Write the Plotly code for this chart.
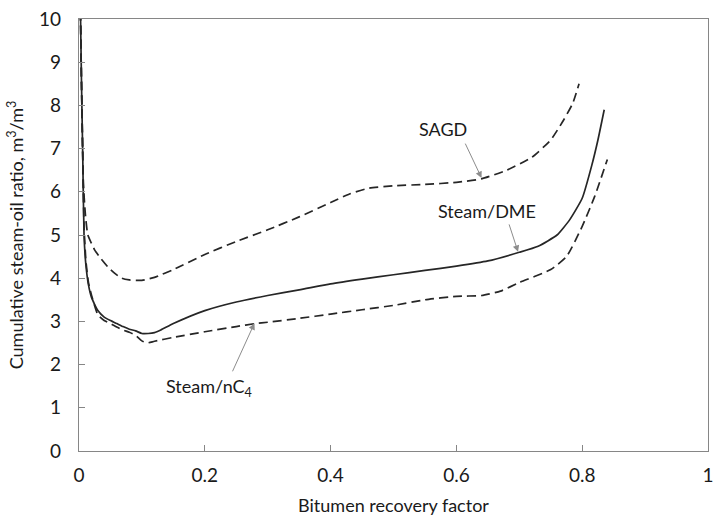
import plotly.graph_objects as go

# ---- data ----
sagd_x = [0.002, 0.004, 0.007, 0.01, 0.014, 0.02, 0.025, 0.035, 0.046, 0.058, 0.068, 0.08, 0.1, 0.12, 0.15,
          0.2, 0.25, 0.3, 0.35, 0.4, 0.43, 0.46, 0.5, 0.55, 0.6, 0.64, 0.68, 0.72, 0.75, 0.77, 0.785, 0.795]
sagd_y = [10.5, 8.5, 6.2, 5.5, 5.0, 4.8, 4.65, 4.45, 4.26, 4.1, 4.0, 3.96, 3.95, 4.02, 4.2,
          4.55, 4.85, 5.12, 5.42, 5.75, 5.95, 6.08, 6.14, 6.17, 6.22, 6.3, 6.5, 6.8, 7.2, 7.65, 8.05, 8.5]

dme_x = [0.002, 0.004, 0.006, 0.008, 0.011, 0.015, 0.02, 0.03, 0.04, 0.05, 0.06, 0.07, 0.08, 0.09, 0.1,
         0.11, 0.12, 0.13, 0.15, 0.2, 0.25, 0.3, 0.35, 0.4, 0.45, 0.5, 0.55, 0.6, 0.65, 0.7, 0.73,
         0.76, 0.78, 0.8, 0.815, 0.825, 0.835]
dme_y = [10.5, 8.5, 6.8, 5.0, 4.3, 3.85, 3.55, 3.25, 3.1, 3.02, 2.95, 2.88, 2.82, 2.78, 2.72,
         2.72, 2.74, 2.8, 2.95, 3.25, 3.45, 3.6, 3.73, 3.87, 3.98, 4.08, 4.18, 4.28, 4.4, 4.6, 4.74,
         5.0, 5.35, 5.85, 6.6, 7.2, 7.9]

nc4_x = [0.002, 0.004, 0.006, 0.008, 0.011, 0.015, 0.02, 0.03, 0.04, 0.05, 0.06, 0.07, 0.08, 0.09, 0.1,
         0.108, 0.12, 0.15, 0.2, 0.25, 0.28, 0.3, 0.35, 0.4, 0.45, 0.5, 0.55, 0.6, 0.64, 0.67, 0.7,
         0.75, 0.775, 0.8, 0.82, 0.84]
nc4_y = [10.5, 8.5, 6.8, 5.2, 4.4, 3.9, 3.6, 3.15, 3.02, 2.95, 2.87, 2.8, 2.75, 2.68, 2.55,
         2.5, 2.54, 2.63, 2.76, 2.88, 2.95, 2.98, 3.07, 3.17, 3.27, 3.37, 3.5, 3.58, 3.6, 3.7, 3.9,
         4.2, 4.5, 5.2, 5.9, 6.75]

x_ticks = [0, 0.2, 0.4, 0.6, 0.8, 1]
x_tick_labels = ["0", "0.2", "0.4", "0.6", "0.8", "1"]
y_ticks = list(range(0, 11))

labels = ["SAGD", "Steam/DME", "Steam/nC<sub>4</sub>"]
label_pos = [(0.578, 7.45), (0.648, 5.56), (0.206, 1.46)]
arrow_tail = [(0.613, 7.15), (0.683, 5.28), (0.243, 1.81)]
arrow_tip = [(0.640, 6.32), (0.698, 4.61), (0.279, 2.96)]

FONT = "Lato, 'Open Sans', sans-serif"
LINE = "#262626"
AXIS = "#868686"

fig = go.Figure()
fig.add_trace(go.Scatter(x=sagd_x, y=sagd_y, mode="lines", name="SAGD",
                         line=dict(color=LINE, width=1.7, dash="9px,5px", shape="spline", smoothing=0.5)))
fig.add_trace(go.Scatter(x=dme_x, y=dme_y, mode="lines", name="Steam/DME",
                         line=dict(color=LINE, width=1.7, shape="spline", smoothing=0.5)))
fig.add_trace(go.Scatter(x=nc4_x, y=nc4_y, mode="lines", name="Steam/nC4",
                         line=dict(color=LINE, width=1.7, dash="9px,5px", shape="spline", smoothing=0.5)))

annotations = []
for txt, (tx, ty) in zip(labels, label_pos):
    annotations.append(dict(x=tx, y=ty, xref="x", yref="y", text=txt, showarrow=False,
                            font=dict(family=FONT, size=18, color="#1a1a1a")))
for (ax, ay), (hx, hy) in zip(arrow_tail, arrow_tip):
    annotations.append(dict(x=hx, y=hy, ax=ax, ay=ay, xref="x", yref="y", axref="x", ayref="y",
                            text="", showarrow=True, arrowhead=2, arrowsize=1.3, arrowwidth=1,
                            arrowcolor="#8c8c8c", standoff=0, startstandoff=0))

fig.update_layout(
    width=713, height=516,
    margin=dict(l=79, r=5, t=19, b=65),
    paper_bgcolor="white", plot_bgcolor="white",
    showlegend=False,
    font=dict(family=FONT, size=19, color="#1a1a1a"),
    annotations=annotations,
    xaxis=dict(range=[0, 1], tickvals=x_ticks, ticktext=x_tick_labels,
               showgrid=False, zeroline=False, showline=True, linecolor=AXIS, linewidth=1.3,
               mirror=True, ticks="inside", ticklen=6, tickcolor=AXIS, ticklabelstandoff=7,
               ticklabeloverflow="allow", automargin=False,
               tickfont=dict(family=FONT, size=19),
               title=dict(text="Bitumen recovery factor", standoff=14,
                          font=dict(family=FONT, size=18))),
    yaxis=dict(range=[0, 10], tickvals=y_ticks,
               showgrid=False, zeroline=False, showline=True, linecolor=AXIS, linewidth=1.3,
               mirror=True, ticks="inside", ticklen=6, tickcolor=AXIS, ticklabelstandoff=13,
               automargin=False,
               tickfont=dict(family=FONT, size=19),
               title=dict(text="Cumulative steam-oil ratio, m<sup>3</sup>/m<sup>3</sup>", standoff=10,
                          font=dict(family=FONT, size=18))),
)

fig.write_html("out.html")
